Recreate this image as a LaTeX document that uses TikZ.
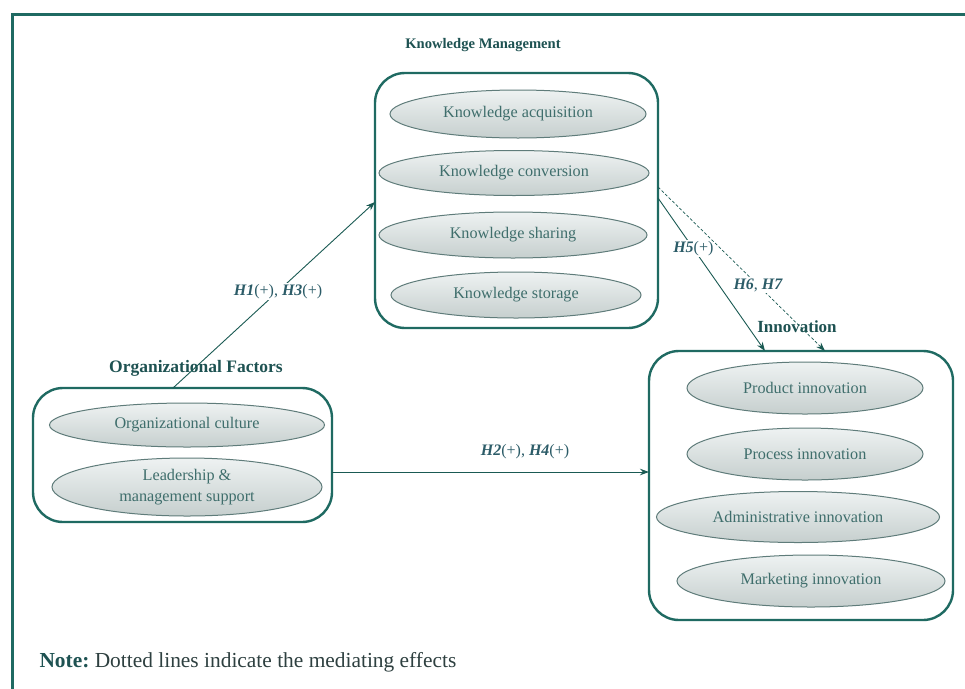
\documentclass[tikz,border=0pt]{standalone}
\usepackage{fontspec}
\setmainfont{Liberation Serif}
\usetikzlibrary{shapes.geometric,arrows.meta,calc}

\definecolor{framec}{HTML}{1F6A62}
\definecolor{titlec}{HTML}{1E5252}
\definecolor{itemc}{HTML}{3F6E6C}
\definecolor{labelc}{HTML}{2C5C68}
\definecolor{notec}{HTML}{2E4040}
\definecolor{ellborder}{HTML}{5F7C7A}
\definecolor{elltop}{HTML}{EEF2F2}
\definecolor{ellbot}{HTML}{C6CFCE}

\tikzset{
  groupbox/.style={draw=framec, line width=2.4pt, rounded corners=30pt, inner sep=0pt},
  item/.style={ellipse, draw=ellborder, line width=1pt, top color=elltop, bottom color=ellbot,
    inner sep=0pt, text=itemc, font=\fontsize{16.2}{21}\selectfont, align=center},
  grouptitle/.style={text=titlec},
  link/.style={draw=framec!85!black, line width=0.9pt, -{Stealth[length=9pt,width=6.5pt]}},
  medlink/.style={link, densely dashed, line width=0.7pt},
  hyp/.style={fill=white, inner sep=1pt, text=labelc, font=\fontsize{16}{18}\selectfont},
}

\begin{document}
\begin{tikzpicture}[x=1pt,y=-1pt]
\useasboundingbox (0,0) rectangle (965,688);
\clip (0,0) rectangle (965,688);
\fill[white] (0,0) rectangle (965,688);

% outer frame, running past the right and bottom edges
\draw[framec, line width=3pt] (12,14) rectangle (1000,720);

% Knowledge Management group
\node[grouptitle, font=\fontsize{14.6}{17}\selectfont\bfseries] (kmtitle) at (483,45) {Knowledge Management};
\node[groupbox, minimum width=283pt, minimum height=255pt] (km) at (516.5,200.5) {};
\node[item, minimum width=256pt, minimum height=48pt] (ka) at (518,114) {Knowledge acquisition};
\node[item, minimum width=270pt, minimum height=45pt] (kc) at (514,173) {Knowledge conversion};
\node[item, minimum width=268pt, minimum height=46pt] (ks) at (513,235) {Knowledge sharing};
\node[item, minimum width=250pt, minimum height=46pt] (kst) at (516,295) {Knowledge storage};

% Organizational Factors group
\node[grouptitle, font=\fontsize{17.5}{20}\selectfont\bfseries] (oftitle) at (196,368) {Organizational Factors};
\node[groupbox, minimum width=299pt, minimum height=134pt] (of) at (182.5,455) {};
\node[item, minimum width=275pt, minimum height=44pt] (oc) at (187,425) {Organizational culture};
\node[item, minimum width=270pt, minimum height=58pt] (lm) at (187,487) {Leadership \&\\ management support};

% Innovation group
\node[grouptitle, font=\fontsize{17}{20}\selectfont\bfseries] (intitle) at (797,327) {Innovation};
\node[groupbox, minimum width=304pt, minimum height=269pt] (inn) at (801,485.5) {};
\node[item, minimum width=236pt, minimum height=52pt] (pi) at (805,388) {Product innovation};
\node[item, minimum width=236pt, minimum height=52pt] (pri) at (805,454) {Process innovation};
\node[item, minimum width=283pt, minimum height=51pt] (ai) at (798,517) {Administrative innovation};
\node[item, minimum width=268pt, minimum height=52pt] (mi) at (811,581) {Marketing innovation};

% connectors
\coordinate (ofout) at (173,388);
\coordinate (kmin) at (375,202);
\draw[link] (ofout) -- (kmin)
  node[hyp, pos=0.52] {\textbf{\textit{H1}}(+), \textbf{\textit{H3}}(+)};

\coordinate (ofright) at (332,472);
\coordinate (innleft) at (649,472);
\draw[link] (ofright) -- (innleft);
\node[hyp] (h24) at (525,452) {\textbf{\textit{H2}}(+), \textbf{\textit{H4}}(+)};

\coordinate (kmout1) at (658,198);
\coordinate (innin1) at (765,351);
\draw[link] (kmout1) -- (innin1) node[hyp, pos=0.33] {\textbf{\textit{H5}}(+)};

\coordinate (kmout2) at (658,187);
\coordinate (innin2) at (825,351);
\draw[medlink] (kmout2) -- (innin2) node[hyp, pos=0.6] {\textbf{\textit{H6}}, \textbf{\textit{H7}}};

% note
\node[anchor=west, text=notec, font=\fontsize{21.4}{24}\selectfont] (note) at (36,662)
  {\textcolor{titlec}{\bfseries Note:}~Dotted lines indicate the mediating effects};
\end{tikzpicture}
\end{document}
